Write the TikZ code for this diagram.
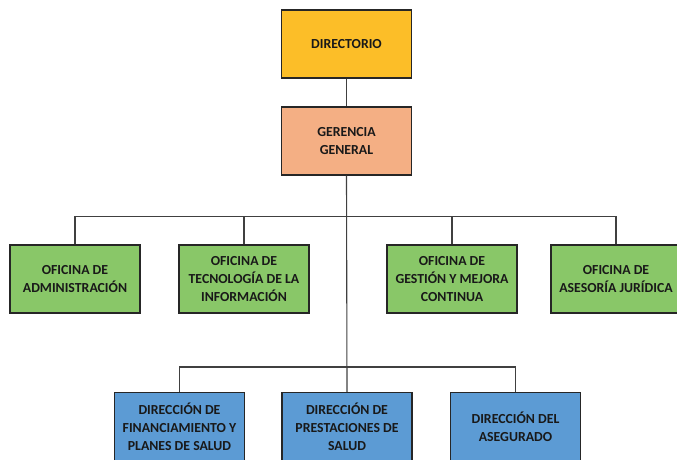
\documentclass[tikz,border=0pt]{standalone}
\usepackage{fontspec}
\setmainfont{Carlito}
\usepackage{tikz}
\usetikzlibrary{positioning}
\definecolor{gold}{RGB}{252,190,40}
\definecolor{salmon}{RGB}{244,175,132}
\definecolor{leafgreen}{RGB}{137,199,104}
\definecolor{steelblue}{RGB}{92,155,212}
\definecolor{linegray}{RGB}{64,64,64}

\begin{document}
\begin{tikzpicture}[auto, node distance = 97pt and 100pt, on grid, line width=1.1pt, draw=linegray,
    every node/.style={rectangle, draw=black!85, line width=1.1pt, minimum width=130pt, minimum height=68pt,
      align=center, font=\fontsize{13.8}{18}\selectfont\bfseries, text=black!90, inner sep=2pt}]
  \useasboundingbox (0,0) rectangle (677pt,-460pt);
  \begin{scope}
  \clip (0,0) rectangle (677pt,-460pt);
			 \node [fill=gold] (DIR) at (346.5pt,-44pt) {DIRECTORIO};
			 \node [fill=salmon] (GER) [below =of DIR] {GERENCIA\\GENERAL};
			 \node [fill=leafgreen] (ADM) [below left =138pt and 271.5pt of GER] {OFICINA DE\\ADMINISTRACIÓN};
			 \node [fill=leafgreen] (OTI) [right =169pt of ADM] {OFICINA DE\\TECNOLOGÍA DE LA\\INFORMACIÓN};
			 \node [fill=leafgreen] (OGM) [right =208pt of OTI] {OFICINA DE\\GESTIÓN Y MEJORA\\CONTINUA};
			 \node [fill=leafgreen] (OAJ) [right =164pt of OGM] {OFICINA DE\\ASESORÍA JURÍDICA};
			 \node [fill=steelblue] (DFP) [below =147.5pt of OTI, xshift=-64.5pt] {DIRECCIÓN DE\\FINANCIAMIENTO Y\\PLANES DE SALUD};
			 \node [fill=steelblue] (DPS) [right =167.5pt of DFP] {DIRECCIÓN DE\\PRESTACIONES DE\\SALUD};
			 \node [fill=steelblue] (DAS) [right =168.5pt of DPS] {DIRECCIÓN DEL\\ASEGURADO};
			 \coordinate (busO) at ([yshift=28pt]ADM.north);
			 \coordinate (busD) at ([yshift=25pt]DPS.north);
			 \draw (DIR) -- (GER);
			 \draw (GER.south) -- (DPS.north);
			 \draw (ADM.north) |- (busO) -| (OAJ.north);
			 \draw (OTI.north) -- (OTI.north |- busO);
			 \draw (OGM.north) -- (OGM.north |- busO);
			 \draw (DFP.north) |- (busD) -| (DAS.north);
  \end{scope}
		\end{tikzpicture}
\end{document}
